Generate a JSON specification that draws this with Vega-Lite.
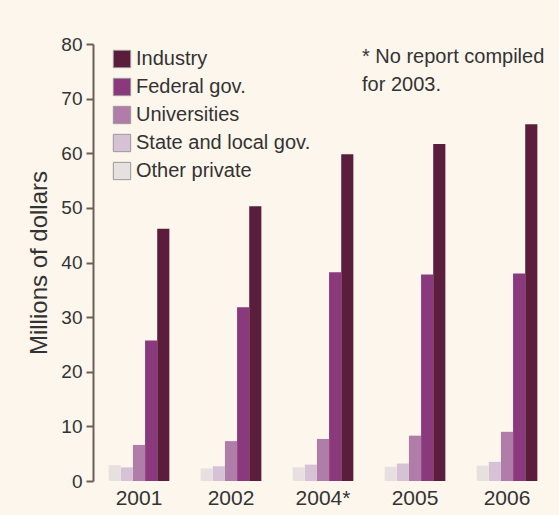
{
  "$schema": "https://vega.github.io/schema/vega-lite/v6.json",
  "width": 460,
  "height": 437,
  "autosize": {"type": "none"},
  "padding": {"left": 93, "top": 44, "right": 6, "bottom": 34},
  "background": "#fdf6ec",
  "config": {"font": "Liberation Sans", "view": {"stroke": null}},
  "layer": [
    {
      "data": {
        "values": [
          {"year": "2001", "source": "Industry", "value": 46.2},
          {"year": "2001", "source": "Federal gov.", "value": 25.7},
          {"year": "2001", "source": "Universities", "value": 6.6},
          {"year": "2001", "source": "State and local gov.", "value": 2.5},
          {"year": "2001", "source": "Other private", "value": 2.9},
          {"year": "2002", "source": "Industry", "value": 50.3},
          {"year": "2002", "source": "Federal gov.", "value": 31.8},
          {"year": "2002", "source": "Universities", "value": 7.3},
          {"year": "2002", "source": "State and local gov.", "value": 2.7},
          {"year": "2002", "source": "Other private", "value": 2.3},
          {"year": "2004*", "source": "Industry", "value": 59.8},
          {"year": "2004*", "source": "Federal gov.", "value": 38.2},
          {"year": "2004*", "source": "Universities", "value": 7.7},
          {"year": "2004*", "source": "State and local gov.", "value": 3.0},
          {"year": "2004*", "source": "Other private", "value": 2.5},
          {"year": "2005", "source": "Industry", "value": 61.7},
          {"year": "2005", "source": "Federal gov.", "value": 37.8},
          {"year": "2005", "source": "Universities", "value": 8.3},
          {"year": "2005", "source": "State and local gov.", "value": 3.2},
          {"year": "2005", "source": "Other private", "value": 2.6},
          {"year": "2006", "source": "Industry", "value": 65.3},
          {"year": "2006", "source": "Federal gov.", "value": 38.0},
          {"year": "2006", "source": "Universities", "value": 9.0},
          {"year": "2006", "source": "State and local gov.", "value": 3.5},
          {"year": "2006", "source": "Other private", "value": 2.8}
        ]
      },
      "mark": {"type": "bar"},
      "encoding": {
        "x": {
          "field": "year",
          "type": "nominal",
          "sort": ["2001", "2002", "2004*", "2005", "2006"],
          "scale": {"paddingInner": 0.34, "paddingOuter": 0.17},
          "axis": {"title": null, "labelAngle": 0, "domain": false, "ticks": false, "labelFontSize": 21, "labelPadding": 6, "labelColor": "#333333"}
        },
        "xOffset": {
          "field": "source",
          "type": "nominal",
          "sort": ["Other private", "State and local gov.", "Universities", "Federal gov.", "Industry"]
        },
        "y": {
          "field": "value",
          "type": "quantitative",
          "scale": {"domain": [0, 80]},
          "axis": {
            "values": [0, 10, 20, 30, 40, 50, 60, 70, 80],
            "grid": false,
            "domainColor": "#6b6058",
            "domainWidth": 2,
            "tickColor": "#6b6058",
            "tickWidth": 2,
            "tickSize": 7,
            "labelFontSize": 19,
            "labelPadding": 4,
            "labelColor": "#333333",
            "title": "Millions of dollars",
            "titleFontSize": 24,
            "titleFontWeight": "normal",
            "titleColor": "#333333",
            "titlePadding": 9
          }
        },
        "color": {
          "field": "source",
          "type": "nominal",
          "scale": {
            "domain": ["Industry", "Federal gov.", "Universities", "State and local gov.", "Other private"],
            "range": ["#5a1e3c", "#8a3a7c", "#b07ca8", "#d6c2d4", "#e6e1e0"]
          },
          "legend": {
            "orient": "none",
            "legendX": 19,
            "legendY": 5,
            "title": null,
            "labelFontSize": 20,
            "labelLimit": 400,
            "labelColor": "#333333",
            "symbolType": "square",
            "symbolSize": 300,
            "symbolStrokeColor": "#999999",
            "symbolStrokeWidth": 1,
            "rowPadding": 6,
            "labelOffset": 4
          }
        }
      }
    },
    {
      "data": {"values": [{"note": "* No report compiled\n\u2002for 2003."}]},
      "mark": {"type": "text", "align": "left", "baseline": "alphabetic", "fontSize": 20, "lineHeight": 28, "lineBreak": "\n", "color": "#333333", "dx": -53},
      "encoding": {
        "x": {"datum": "2005"},
        "y": {"datum": 76.5},
        "text": {"field": "note"}
      }
    }
  ]
}
